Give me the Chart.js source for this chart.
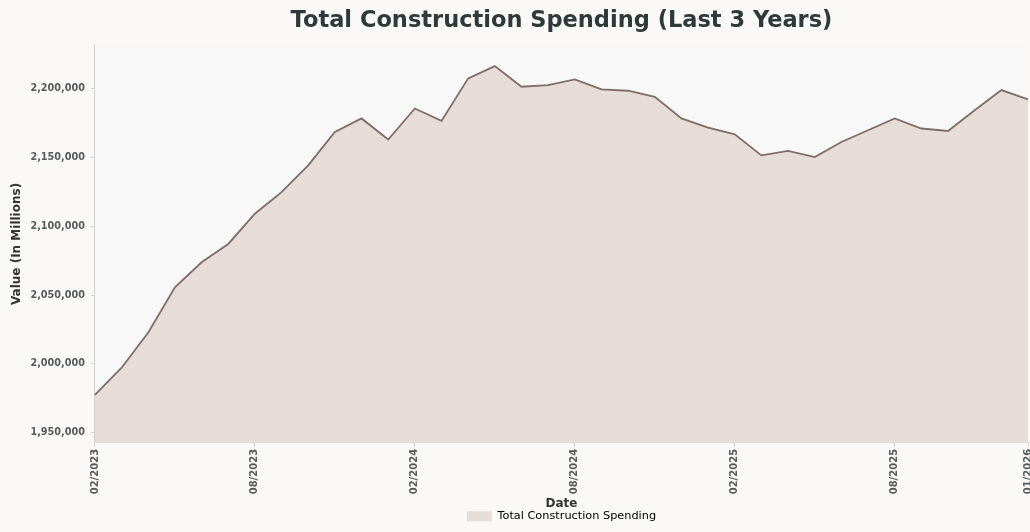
<!DOCTYPE html>
<html>
<head>
<meta charset="utf-8">
<script src="https://cdn.jsdelivr.net/npm/chart.js@4.4.1/dist/chart.umd.min.js"></script>
<style>
  html, body { margin: 0; padding: 0; background: #faf9f8; }
  #wrap { width: 1030px; height: 532px; position: relative; }
</style>
</head>
<body>
<div id="wrap"><canvas id="chart" width="1030" height="532"></canvas></div>
<script>
// Monthly total construction spending, millions of dollars
const months = [
  '02/2023','03/2023','04/2023','05/2023','06/2023','07/2023','08/2023','09/2023','10/2023','11/2023','12/2023',
  '01/2024','02/2024','03/2024','04/2024','05/2024','06/2024','07/2024','08/2024','09/2024','10/2024','11/2024','12/2024',
  '01/2025','02/2025','03/2025','04/2025','05/2025','06/2025','07/2025','08/2025','09/2025','10/2025','11/2025','12/2025',
  '01/2026'
];
const spending = [
  1977500, 1997300, 2022800, 2055600, 2073800, 2087100, 2109000, 2124700, 2144200, 2168400, 2178200,
  2162900, 2185400, 2176400, 2207300, 2216200, 2201200, 2202400, 2206500, 2199300, 2198300, 2193900, 2178200,
  2171600, 2166700, 2151400, 2154600, 2150200, 2161100, 2169600, 2178200, 2170900, 2169100, 2184200, 2198800,
  2192000
];
const xTickLabels = ['02/2023','08/2023','02/2024','08/2024','02/2025','08/2025','01/2026'];
const yTicks = [1950000, 2000000, 2050000, 2100000, 2150000, 2200000];
const yMin = 1942700;
const yMax = 2231500;

const axisGray = '#d0d0d0';
const tickColor = '#555b5b';

const background = {
  id: 'background',
  beforeDraw(chart) {
    const { ctx, chartArea: a } = chart;
    ctx.save();
    ctx.fillStyle = '#faf9f8';
    ctx.fillRect(0, 0, chart.width, chart.height);
    ctx.fillStyle = '#f8f8f8';
    ctx.fillRect(a.left, a.top, a.right - a.left, a.bottom - a.top);
    ctx.restore();
  }
};

Chart.defaults.font.family = "'DejaVu Sans', sans-serif";

const isLabelled = i => xTickLabels.includes(months[i]);

new Chart(document.getElementById('chart'), {
  type: 'line',
  data: {
    labels: months,
    datasets: [{
      label: 'Total Construction Spending',
      data: spending,
      borderColor: '#7e6d68',
      borderWidth: 1.8,
      backgroundColor: '#e7ddd8',
      fill: 'start',
      pointRadius: 0,
      tension: 0
    }]
  },
  options: {
    responsive: false,
    animation: false,
    layout: { padding: { left: 10, right: 2, top: 0, bottom: 0 } },
    plugins: {
      title: {
        display: true,
        text: 'Total Construction Spending (Last 3 Years)',
        color: '#2e3a3a',
        font: { size: 22.5, weight: 'bold' },
        fullSize: false,
        padding: { top: 8, bottom: 10 }
      },
      legend: {
        position: 'bottom',
        fullSize: false,
        labels: {
          boxWidth: 25,
          boxHeight: 10,
          color: '#444',
          font: { size: 11.3 },
          padding: 0,
          generateLabels(chart) {
            const ds = chart.data.datasets[0];
            return [{
              text: ds.label,
              fillStyle: ds.backgroundColor,
              strokeStyle: ds.backgroundColor,
              lineWidth: 0,
              datasetIndex: 0
            }];
          }
        }
      },
      tooltip: { enabled: false }
    },
    scales: {
      x: {
        type: 'category',
        offset: false,
        // the last month sits on the right edge; no extra room for its label
        afterFit(scale) { scale.paddingRight = 0; },
        grid: {
          drawOnChartArea: false,
          drawTicks: true,
          tickLength: 4,
          color: ctx => (ctx.index !== undefined && isLabelled(ctx.index)) ? axisGray : 'rgba(0,0,0,0)'
        },
        border: { display: true, color: axisGray, width: 1 },
        ticks: {
          autoSkip: false,
          maxRotation: 90,
          minRotation: 90,
          color: tickColor,
          font: { size: 10, weight: 'bold' },
          padding: 2,
          callback(value) {
            const lbl = this.getLabelForValue(value);
            return xTickLabels.includes(lbl) ? lbl : '';
          }
        },
        title: {
          display: true,
          text: 'Date',
          color: '#333',
          font: { size: 12, weight: 'bold' },
          padding: { top: 0, bottom: 0 }
        }
      },
      y: {
        min: yMin,
        max: yMax,
        afterBuildTicks(scale) {
          scale.ticks = yTicks.map(v => ({ value: v }));
        },
        grid: { drawOnChartArea: false, drawTicks: true, tickLength: 4, color: axisGray },
        border: { display: true, color: axisGray, width: 1 },
        ticks: {
          color: tickColor,
          font: { size: 9.7, weight: 'bold' },
          padding: 6,
          callback(v) { return v.toLocaleString('en-US'); }
        },
        title: {
          display: true,
          text: 'Value (In Millions)',
          color: '#333',
          font: { size: 12, weight: 'bold' },
          padding: { top: 0, bottom: 0 }
        }
      }
    }
  },
  plugins: [background]
});
</script>
</body>
</html>
